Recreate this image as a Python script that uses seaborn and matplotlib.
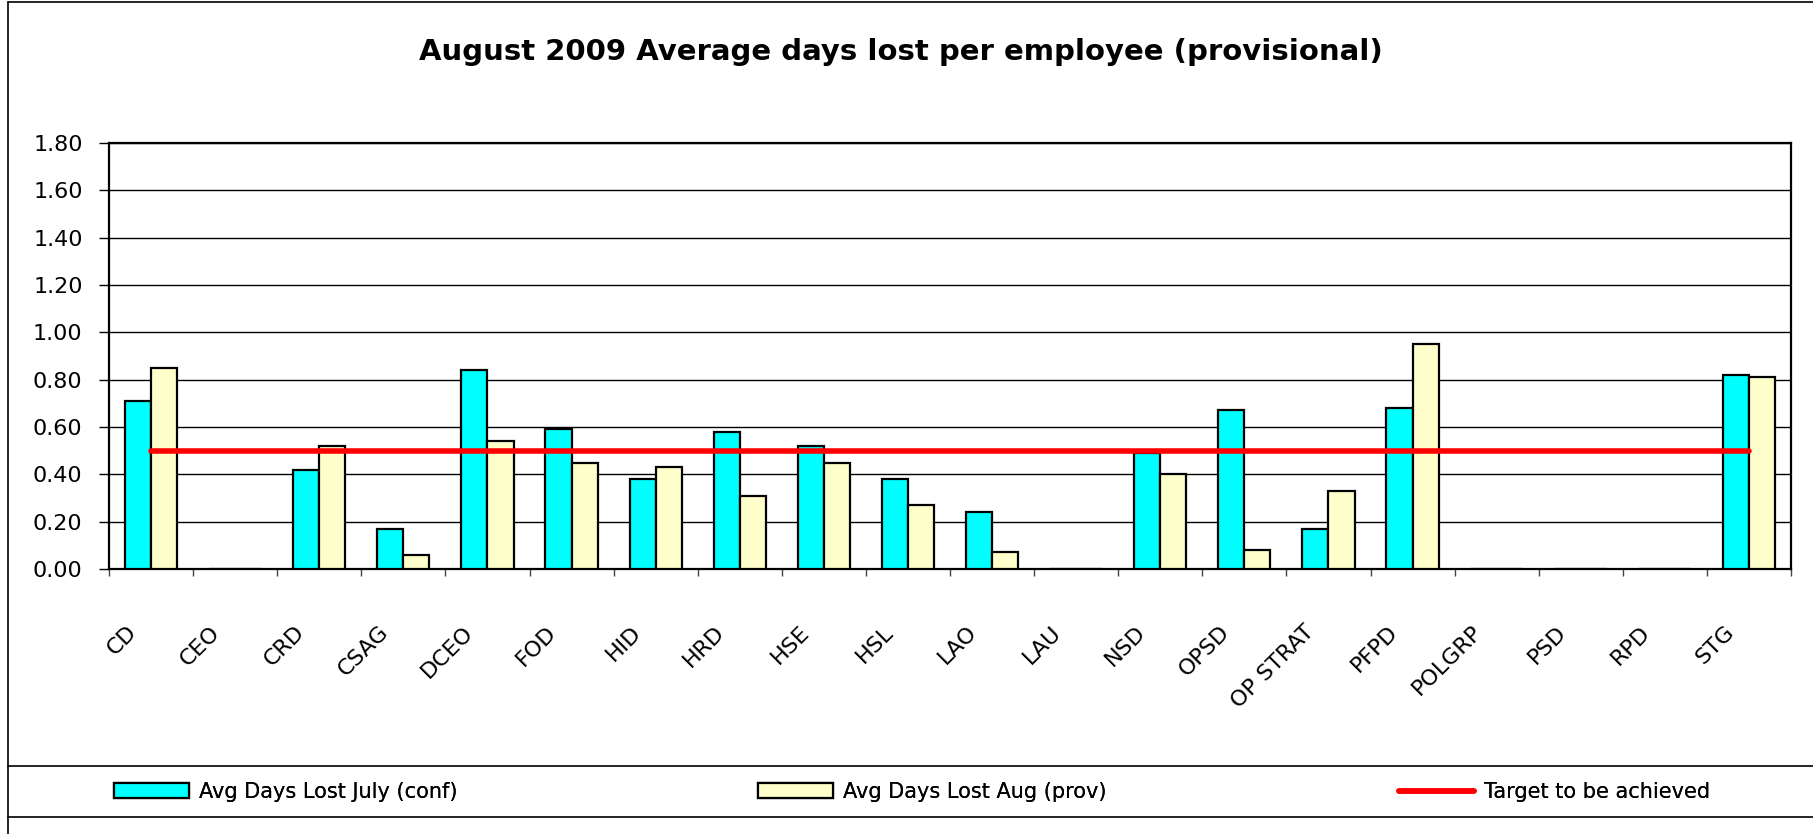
import numpy as np
import pandas as pd
import matplotlib
matplotlib.use("Agg")
import matplotlib.pyplot as plt
import matplotlib.transforms as mtransforms
from matplotlib.patches import Patch
from matplotlib.lines import Line2D
import seaborn as sns

# Данные
departments = ["CD", "CEO", "CRD", "CSAG", "DCEO", "FOD", "HID", "HRD", "HSE", "HSL",
               "LAO", "LAU", "NSD", "OPSD", "OP STRAT", "PFPD", "POLGRP", "PSD", "RPD", "STG"]
july_conf = [0.71, 0.00, 0.42, 0.17, 0.84, 0.59, 0.38, 0.58, 0.52, 0.38,
             0.24, 0.00, 0.49, 0.67, 0.17, 0.68, 0.00, 0.00, 0.00, 0.82]
aug_prov = [0.85, 0.00, 0.52, 0.06, 0.54, 0.45, 0.43, 0.31, 0.45, 0.27,
            0.07, 0.00, 0.40, 0.08, 0.33, 0.95, 0.00, 0.00, 0.00, 0.81]
target = [0.5] * len(departments)

series_names = ["Avg Days Lost July (conf)", "Avg Days Lost Aug (prov)", "Target to be achieved"]
yticks = [0.0, 0.2, 0.4, 0.6, 0.8, 1.0, 1.2, 1.4, 1.6, 1.8]

df = pd.DataFrame({
    "dept": departments * 2,
    "days": july_conf + aug_prov,
    "series": [series_names[0]] * len(departments) + [series_names[1]] * len(departments),
})

sns.set_theme(style="ticks")
plt.rcParams["font.family"] = ["DejaVu Sans"]
plt.rcParams["text.color"] = "black"
plt.rcParams["xtick.color"] = "black"
plt.rcParams["ytick.color"] = "black"
plt.rcParams["xtick.labelcolor"] = "black"
plt.rcParams["ytick.labelcolor"] = "black"

fig = plt.figure(figsize=(18.13, 8.34), dpi=100)
ax = fig.add_axes([109 / 1813, 1 - 569 / 834, (1791 - 109) / 1813, (569 - 143) / 834])

colors = ["#00FFFF", "#FFFFCC"]
sns.barplot(data=df, x="dept", y="days", hue="series", palette=colors, width=0.62,
            edgecolor="black", linewidth=1.6, saturation=1, ax=ax, legend=False, zorder=3)

# Целевая линия
ax.plot(np.arange(len(departments)), target, color="#FF0000", lw=4, zorder=5,
        solid_capstyle="round")

ax.set_xlim(-0.5, len(departments) - 0.5)
ax.set_ylim(0, 1.8)
ax.set_yticks(yticks)
ax.set_yticklabels([f"{v:.2f}" for v in yticks], fontsize=16)
ax.yaxis.grid(True, color="black", lw=1)
ax.set_axisbelow(True)
ax.set_xlabel("")
ax.set_ylabel("")

for s in ax.spines.values():
    s.set_visible(True)
    s.set_color("black")
    s.set_linewidth(1.6)

ax.tick_params(axis="y", direction="out", length=7, width=1, color="black", pad=12)
ax.tick_params(axis="x", which="major", length=0, pad=0)
ax.set_xticks(np.arange(-0.5, len(departments), 1), minor=True)
ax.tick_params(axis="x", which="minor", direction="out", length=5, width=1, color="#444444")

offset = mtransforms.ScaledTranslation(-0.25, -0.53, fig.dpi_scale_trans)
for lbl in ax.get_xticklabels():
    lbl.set_rotation(45)
    lbl.set_ha("right")
    lbl.set_va("top")
    lbl.set_rotation_mode("anchor")
    lbl.set_fontsize(16)
    lbl.set_color("black")
    lbl.set_transform(lbl.get_transform() + offset)

fig.text(0.497, 1 - 52 / 834, "August 2009 Average days lost per employee (provisional)",
         ha="center", va="center", fontsize=21, fontweight="bold", color="black")

# Рамки как в Excel
frame_kw = dict(color="black", lw=1.2, transform=fig.transFigure)
fig.add_artist(Line2D([8 / 1813, 8 / 1813], [0, 1 - 2 / 834], **frame_kw))
fig.add_artist(Line2D([8 / 1813, 1], [1 - 2 / 834, 1 - 2 / 834], **frame_kw))
fig.add_artist(Line2D([8 / 1813, 1], [1 - 766 / 834, 1 - 766 / 834], **frame_kw))
fig.add_artist(Line2D([8 / 1813, 1], [1 - 817 / 834, 1 - 817 / 834], **frame_kw))

handles = [
    Patch(facecolor=colors[0], edgecolor="black", lw=1.6),
    Patch(facecolor=colors[1], edgecolor="black", lw=1.6),
    Line2D([0], [0], color="#FF0000", lw=4, solid_capstyle="round"),
]
legend_x = [114, 758, 1399]
for h, name, x0 in zip(handles, series_names, legend_x):
    leg = fig.legend([h], [name], loc="center left",
                     bbox_to_anchor=(x0 / 1813, 1 - 792 / 834),
                     frameon=False, fontsize=15, handlelength=3.6, handleheight=0.75,
                     handletextpad=0.5, borderaxespad=0, borderpad=0)
    fig.add_artist(leg)

fig.savefig("out.png", dpi=100)
